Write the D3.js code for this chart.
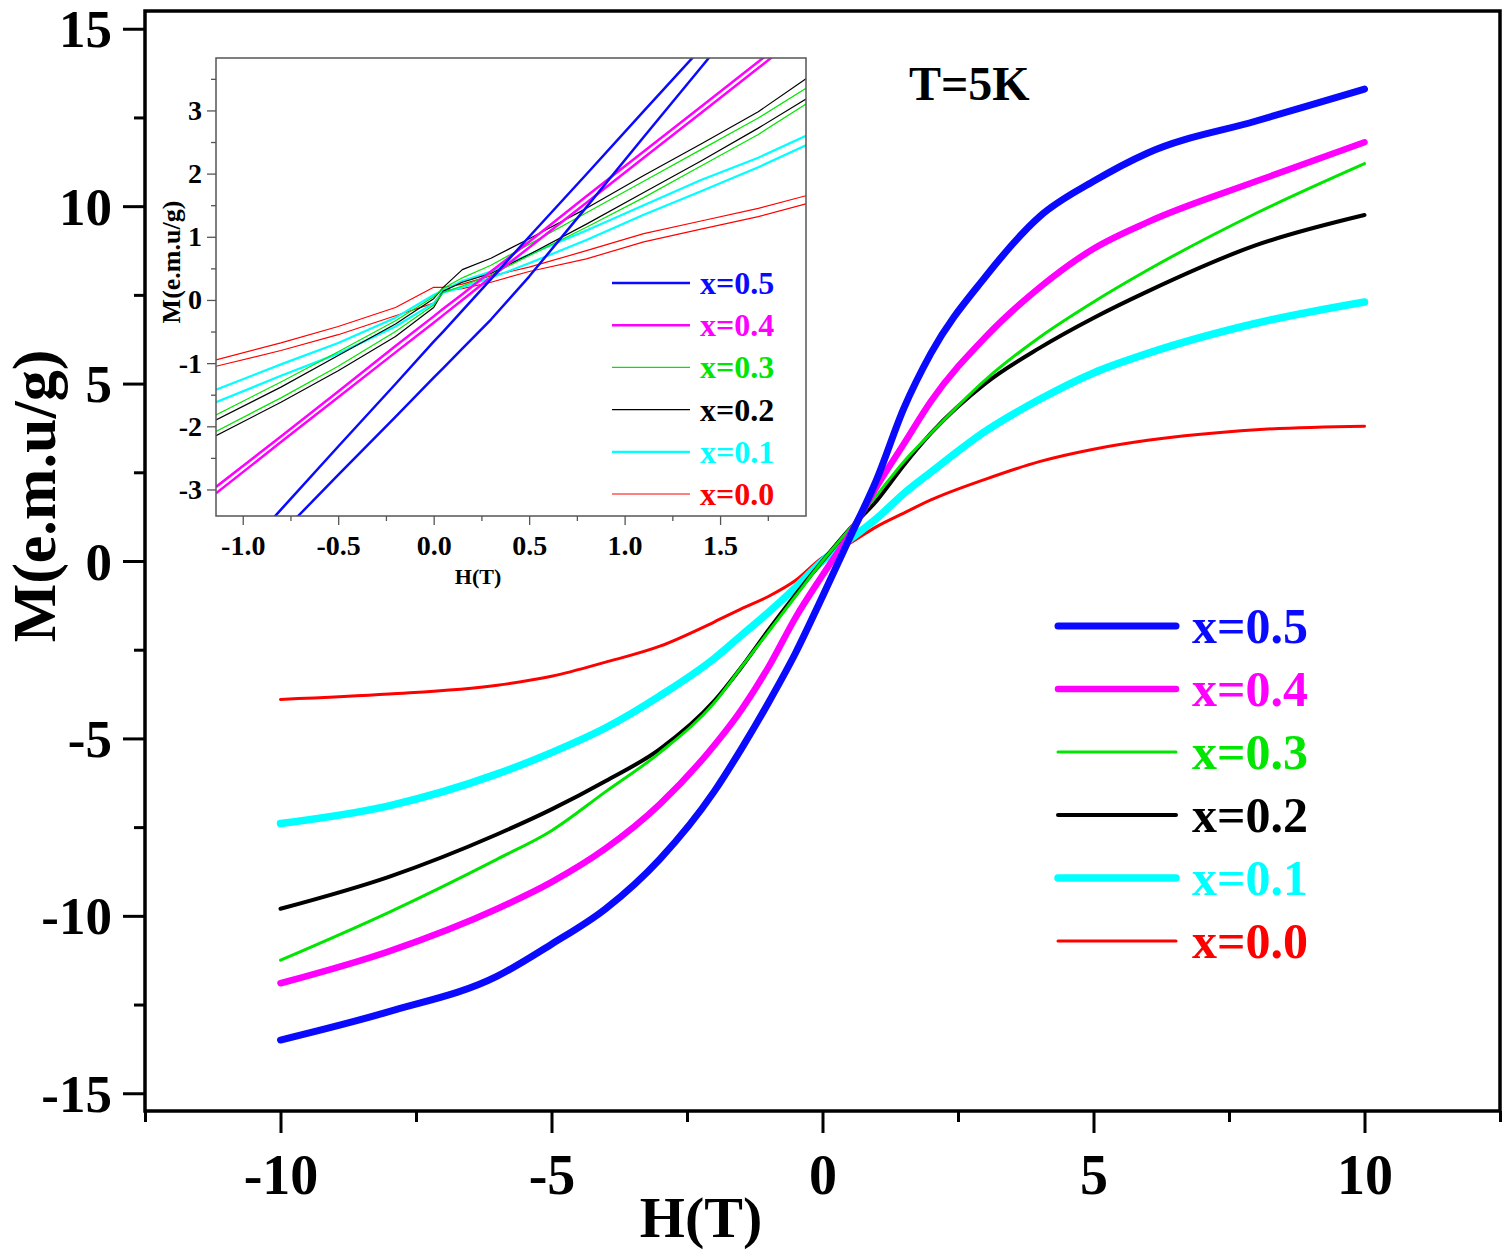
<!DOCTYPE html>
<html>
<head>
<meta charset="utf-8">
<script src="https://cdn.jsdelivr.net/npm/d3@7"></script>
<style>
    body { margin: 0; background: #fff; }
    text { font-family: "Liberation Serif", "Times New Roman", serif; font-weight: bold; }
</style>
</head>
<body>
<svg id="drawing_region"></svg>
<script>
// series labels (top to bottom in both legends)
const seriesNames = ["x=0.5", "x=0.4", "x=0.3", "x=0.2", "x=0.1", "x=0.0"];

// main panel: field H(T) and magnetisation M(e.m.u/g), one sweep per sample
const mainField = [-10, -8, -6, -5, -4, -3, -2, -1.5, -1, -0.5, 0, 0.5, 1, 1.5, 2, 3, 4, 5, 6, 8, 10];
const mainX05 = [-13.5, -12.7, -11.7, -10.8, -9.8, -8.4, -6.5, -5.3, -4.0, -2.6, -1.0, 0.65, 2.3, 4.3, 5.85, 8.0, 9.7, 10.7, 11.5, 12.4, 13.3];
const mainX04 = [-11.9, -11.0, -9.8, -9.05, -8.1, -6.85, -5.2, -4.2, -3.0, -1.6, -0.4, 0.75, 2.1, 3.3, 4.5, 6.3, 7.7, 8.8, 9.55, 10.7, 11.8];
const mainX03 = [-11.25, -9.9, -8.4, -7.6, -6.5, -5.4, -4.0, -3.0, -2.0, -1.0, 0, 0.9, 1.85, 2.8, 3.6, 5.1, 6.3, 7.3, 8.2, 9.8, 11.2];
const mainX02 = [-9.8, -8.9, -7.7, -7.0, -6.2, -5.3, -3.95, -3.0, -1.95, -0.95, 0, 0.9, 1.7, 2.7, 3.6, 5.0, 6.0, 6.85, 7.6, 8.9, 9.75];
const mainX01 = [-7.4, -6.9, -6.0, -5.4, -4.7, -3.8, -2.75, -2.1, -1.45, -0.75, 0, 0.6, 1.2, 1.9, 2.5, 3.65, 4.55, 5.3, 5.85, 6.7, 7.3];
const mainX00 = [-3.9, -3.75, -3.5, -3.25, -2.85, -2.4, -1.72, -1.35, -1.0, -0.55, 0.1, 0.5, 0.97, 1.35, 1.72, 2.3, 2.8, 3.15, 3.4, 3.7, 3.8];

// inset: low-field zoom, two branches (A, B) of each loop
const insetField = [-1.14, -0.8, -0.5, -0.2, 0, 0.05, 0.15, 0.3, 0.5, 0.8, 1.1, 1.4, 1.7, 1.95];
const insetX05A = [-4.45, -3.32, -2.32, -1.33, -0.66, -0.5, -0.17, 0.33, 1.0, 1.99, 2.99, 3.98, 4.98, 5.81];
const insetX05B = [-4.74, -3.7, -2.77, -1.85, -1.23, -1.08, -0.77, -0.31, 0.37, 1.47, 2.58, 3.68, 4.78, 5.7];
const insetX04A = [-2.96, -2.16, -1.45, -0.73, -0.26, -0.14, 0.09, 0.45, 0.92, 1.64, 2.35, 3.06, 3.77, 4.36];
const insetX04B = [-3.06, -2.25, -1.54, -0.83, -0.36, -0.24, 0, 0.36, 0.83, 1.54, 2.25, 2.96, 3.67, 4.27];
const insetX03A = [-1.82, -1.3, -0.82, -0.33, 0.05, 0.18, 0.35, 0.55, 0.88, 1.38, 1.88, 2.38, 2.88, 3.35];
const insetX03B = [-2.08, -1.55, -1.05, -0.5, -0.08, 0.12, 0.22, 0.4, 0.7, 1.15, 1.62, 2.12, 2.62, 3.1];
const insetX02A = [-1.9, -1.38, -0.88, -0.38, 0.02, 0.2, 0.48, 0.66, 0.97, 1.45, 1.97, 2.47, 2.98, 3.5];
const insetX02B = [-2.15, -1.62, -1.12, -0.58, -0.12, 0.14, 0.28, 0.42, 0.72, 1.2, 1.7, 2.2, 2.72, 3.18];
const insetX01A = [-1.42, -1.02, -0.68, -0.28, 0.08, 0.15, 0.3, 0.45, 0.72, 1.1, 1.5, 1.9, 2.25, 2.6];
const insetX01B = [-1.62, -1.2, -0.85, -0.42, -0.05, 0.12, 0.2, 0.35, 0.58, 0.95, 1.35, 1.72, 2.1, 2.45];
const insetX00A = [-0.95, -0.68, -0.42, -0.12, 0.2, 0.2, 0.25, 0.38, 0.52, 0.78, 1.05, 1.25, 1.45, 1.65];
const insetX00B = [-1.05, -0.8, -0.55, -0.25, -0.05, 0.15, 0.18, 0.28, 0.45, 0.65, 0.92, 1.12, 1.32, 1.52];

// tick values
const mainXTicks = [-10, -5, 0, 5, 10];
const mainXMinor = [-12.5, -7.5, -2.5, 2.5, 7.5, 12.5];
const mainYTicks = [-15, -10, -5, 0, 5, 10, 15];
const mainYMinor = [-12.5, -7.5, -2.5, 2.5, 7.5, 12.5];
const insetXTicks = [-1.0, -0.5, 0.0, 0.5, 1.0, 1.5];
const insetXMinor = [-0.75, -0.25, 0.25, 0.75, 1.25, 1.75];
const insetYTicks = [-3, -2, -1, 0, 1, 2, 3];
const insetYMinor = [-2.5, -1.5, -0.5, 0.5, 1.5, 2.5, 3.5];

// styling per series
const colors = ["#0a0aff", "#ff00ff", "#00e600", "#000000", "#00ffff", "#ff0000"];
const mainWidths = [7, 6.5, 3, 4, 7.5, 3];
const insetWidths = [2.5, 2.5, 1.2, 1.2, 2.2, 1.2];

const mainSeries = [mainX05, mainX04, mainX03, mainX02, mainX01, mainX00];
const insetSeries = [
    [insetX05A, insetX05B], [insetX04A, insetX04B], [insetX03A, insetX03B],
    [insetX02A, insetX02B], [insetX01A, insetX01B], [insetX00A, insetX00B]
];

// plain hyphen for negatives, like the original figure
const fmtInt = d => String(d);
const fmtOne = d => d.toFixed(1);

const svg = d3.select('#drawing_region')
    .attr('width', 1508)
    .attr('height', 1256);

svg.append('rect').attr('width', 1508).attr('height', 1256).attr('fill', '#fff');

// ---------- main panel ----------
const xscale = d3.scaleLinear().domain([-12.5, 12.5]).range([145, 1500]);
const yscale = d3.scaleLinear().domain([-15.5, 15.5]).range([1111, 11]);

const mainLine = d3.line()
    .x(d => xscale(d[0]))
    .y(d => yscale(d[1]))
    .curve(d3.curveMonotoneX);

// draw bottom series first so blue ends on top like the original
const order = [5, 4, 3, 2, 1, 0];
order.forEach(i => {
    const pts = mainField.map((h, k) => [h, mainSeries[i][k]]);
    svg.append('path')
        .attr('d', mainLine(pts))
        .attr('fill', 'none')
        .attr('stroke', colors[i])
        .attr('stroke-width', mainWidths[i])
        .attr('stroke-linejoin', 'round')
        .attr('stroke-linecap', 'round');
});

function styleAxis(g, fontSize, strokeW, col) {
    g.select('.domain').remove();
    g.selectAll('line').attr('stroke', col).attr('stroke-width', strokeW);
    g.selectAll('text')
        .attr('fill', '#000')
        .style('font-size', fontSize + 'px')
        .style('font-family', '"Liberation Serif", serif')
        .style('font-weight', 'bold');
}

svg.append('g')
    .attr('transform', 'translate(0,1111)')
    .call(d3.axisBottom(xscale).tickValues(mainXMinor).tickSize(11).tickFormat(''))
    .call(g => styleAxis(g, 56, 3, '#000'));
svg.append('g')
    .attr('transform', 'translate(0,1111)')
    .call(d3.axisBottom(xscale).tickValues(mainXTicks).tickSize(22).tickPadding(21).tickFormat(fmtInt))
    .call(g => styleAxis(g, 56, 3, '#000'));
svg.append('g')
    .attr('transform', 'translate(145,0)')
    .call(d3.axisLeft(yscale).tickValues(mainYMinor).tickSize(11).tickFormat(''))
    .call(g => styleAxis(g, 54, 3, '#000'));
svg.append('g')
    .attr('transform', 'translate(145,0)')
    .call(d3.axisLeft(yscale).tickValues(mainYTicks).tickSize(22).tickPadding(11).tickFormat(fmtInt))
    .call(g => styleAxis(g, 53, 3, '#000'))
    .call(g => g.selectAll('text').attr('dy', '0.34em'));

// frame
svg.append('rect')
    .attr('x', 145).attr('y', 11)
    .attr('width', 1355).attr('height', 1100)
    .attr('fill', 'none')
    .attr('stroke', '#000')
    .attr('stroke-width', 3.5);

svg.append('text')
    .attr('x', 701).attr('y', 1237)
    .attr('text-anchor', 'middle')
    .style('font-size', '58px')
    .text('H(T)');

svg.append('text')
    .attr('transform', 'translate(55,496) rotate(-90)')
    .attr('text-anchor', 'middle')
    .style('font-size', '62px')
    .text('M(e.m.u/g)');

svg.append('text')
    .attr('x', 909).attr('y', 100)
    .style('font-size', '48px')
    .text('T=5K');

// main legend
const legend = svg.append('g');
seriesNames.forEach((name, i) => {
    const yy = 626 + i * 63;
    legend.append('line')
        .attr('x1', 1058).attr('x2', 1176)
        .attr('y1', yy).attr('y2', yy)
        .attr('stroke', colors[i])
        .attr('stroke-width', mainWidths[i])
        .attr('stroke-linecap', 'round');
    legend.append('text')
        .attr('x', 1192).attr('y', yy + 17)
        .attr('fill', colors[i])
        .style('font-size', '50px')
        .text(name);
});

// ---------- inset ----------
const ix = d3.scaleLinear().domain([-1.14, 1.95]).range([216, 806]);
const iy = d3.scaleLinear().domain([-3.42, 3.83]).range([516, 58]);

svg.append('rect')
    .attr('x', 216).attr('y', 58)
    .attr('width', 590).attr('height', 458)
    .attr('fill', '#fff');

svg.append('clipPath').attr('id', 'inset_clip')
    .append('rect')
    .attr('x', 216).attr('y', 58)
    .attr('width', 590).attr('height', 458);

const insetLine = d3.line()
    .x(d => ix(d[0]))
    .y(d => iy(d[1]));

const insetPlot = svg.append('g').attr('clip-path', 'url(#inset_clip)');
order.forEach(i => {
    insetSeries[i].forEach(branch => {
        const pts = insetField.map((h, k) => [h, branch[k]]);
        insetPlot.append('path')
            .attr('d', insetLine(pts))
            .attr('fill', 'none')
            .attr('stroke', colors[i])
            .attr('stroke-width', insetWidths[i])
            .attr('stroke-linejoin', 'round');
    });
});

svg.append('g')
    .attr('transform', 'translate(0,516)')
    .call(d3.axisBottom(ix).tickValues(insetXMinor).tickSize(5).tickFormat(''))
    .call(g => styleAxis(g, 28, 1.3, '#555'));
svg.append('g')
    .attr('transform', 'translate(0,516)')
    .call(d3.axisBottom(ix).tickValues(insetXTicks).tickSize(9).tickPadding(10).tickFormat(fmtOne))
    .call(g => styleAxis(g, 28, 1.3, '#555'));
svg.append('g')
    .attr('transform', 'translate(216,0)')
    .call(d3.axisLeft(iy).tickValues(insetYMinor).tickSize(5).tickFormat(''))
    .call(g => styleAxis(g, 28, 1.3, '#555'));
svg.append('g')
    .attr('transform', 'translate(216,0)')
    .call(d3.axisLeft(iy).tickValues(insetYTicks).tickSize(9).tickPadding(5).tickFormat(fmtInt))
    .call(g => styleAxis(g, 28, 1.3, '#555'));

svg.append('rect')
    .attr('x', 216).attr('y', 58)
    .attr('width', 590).attr('height', 458)
    .attr('fill', 'none')
    .attr('stroke', '#555')
    .attr('stroke-width', 1.5);

svg.append('text')
    .attr('x', 478).attr('y', 584)
    .attr('text-anchor', 'middle')
    .style('font-size', '22px')
    .text('H(T)');

svg.append('text')
    .attr('transform', 'translate(180,262) rotate(-90)')
    .attr('text-anchor', 'middle')
    .style('font-size', '26px')
    .text('M(e.m.u/g)');

const insetLegend = svg.append('g');
seriesNames.forEach((name, i) => {
    const yy = 283 + i * 42.2;
    insetLegend.append('line')
        .attr('x1', 612).attr('x2', 690)
        .attr('y1', yy).attr('y2', yy)
        .attr('stroke', colors[i])
        .attr('stroke-width', insetWidths[i]);
    insetLegend.append('text')
        .attr('x', 700).attr('y', yy + 11)
        .attr('fill', colors[i])
        .style('font-size', '32px')
        .text(name);
});
</script>
</body>
</html>
